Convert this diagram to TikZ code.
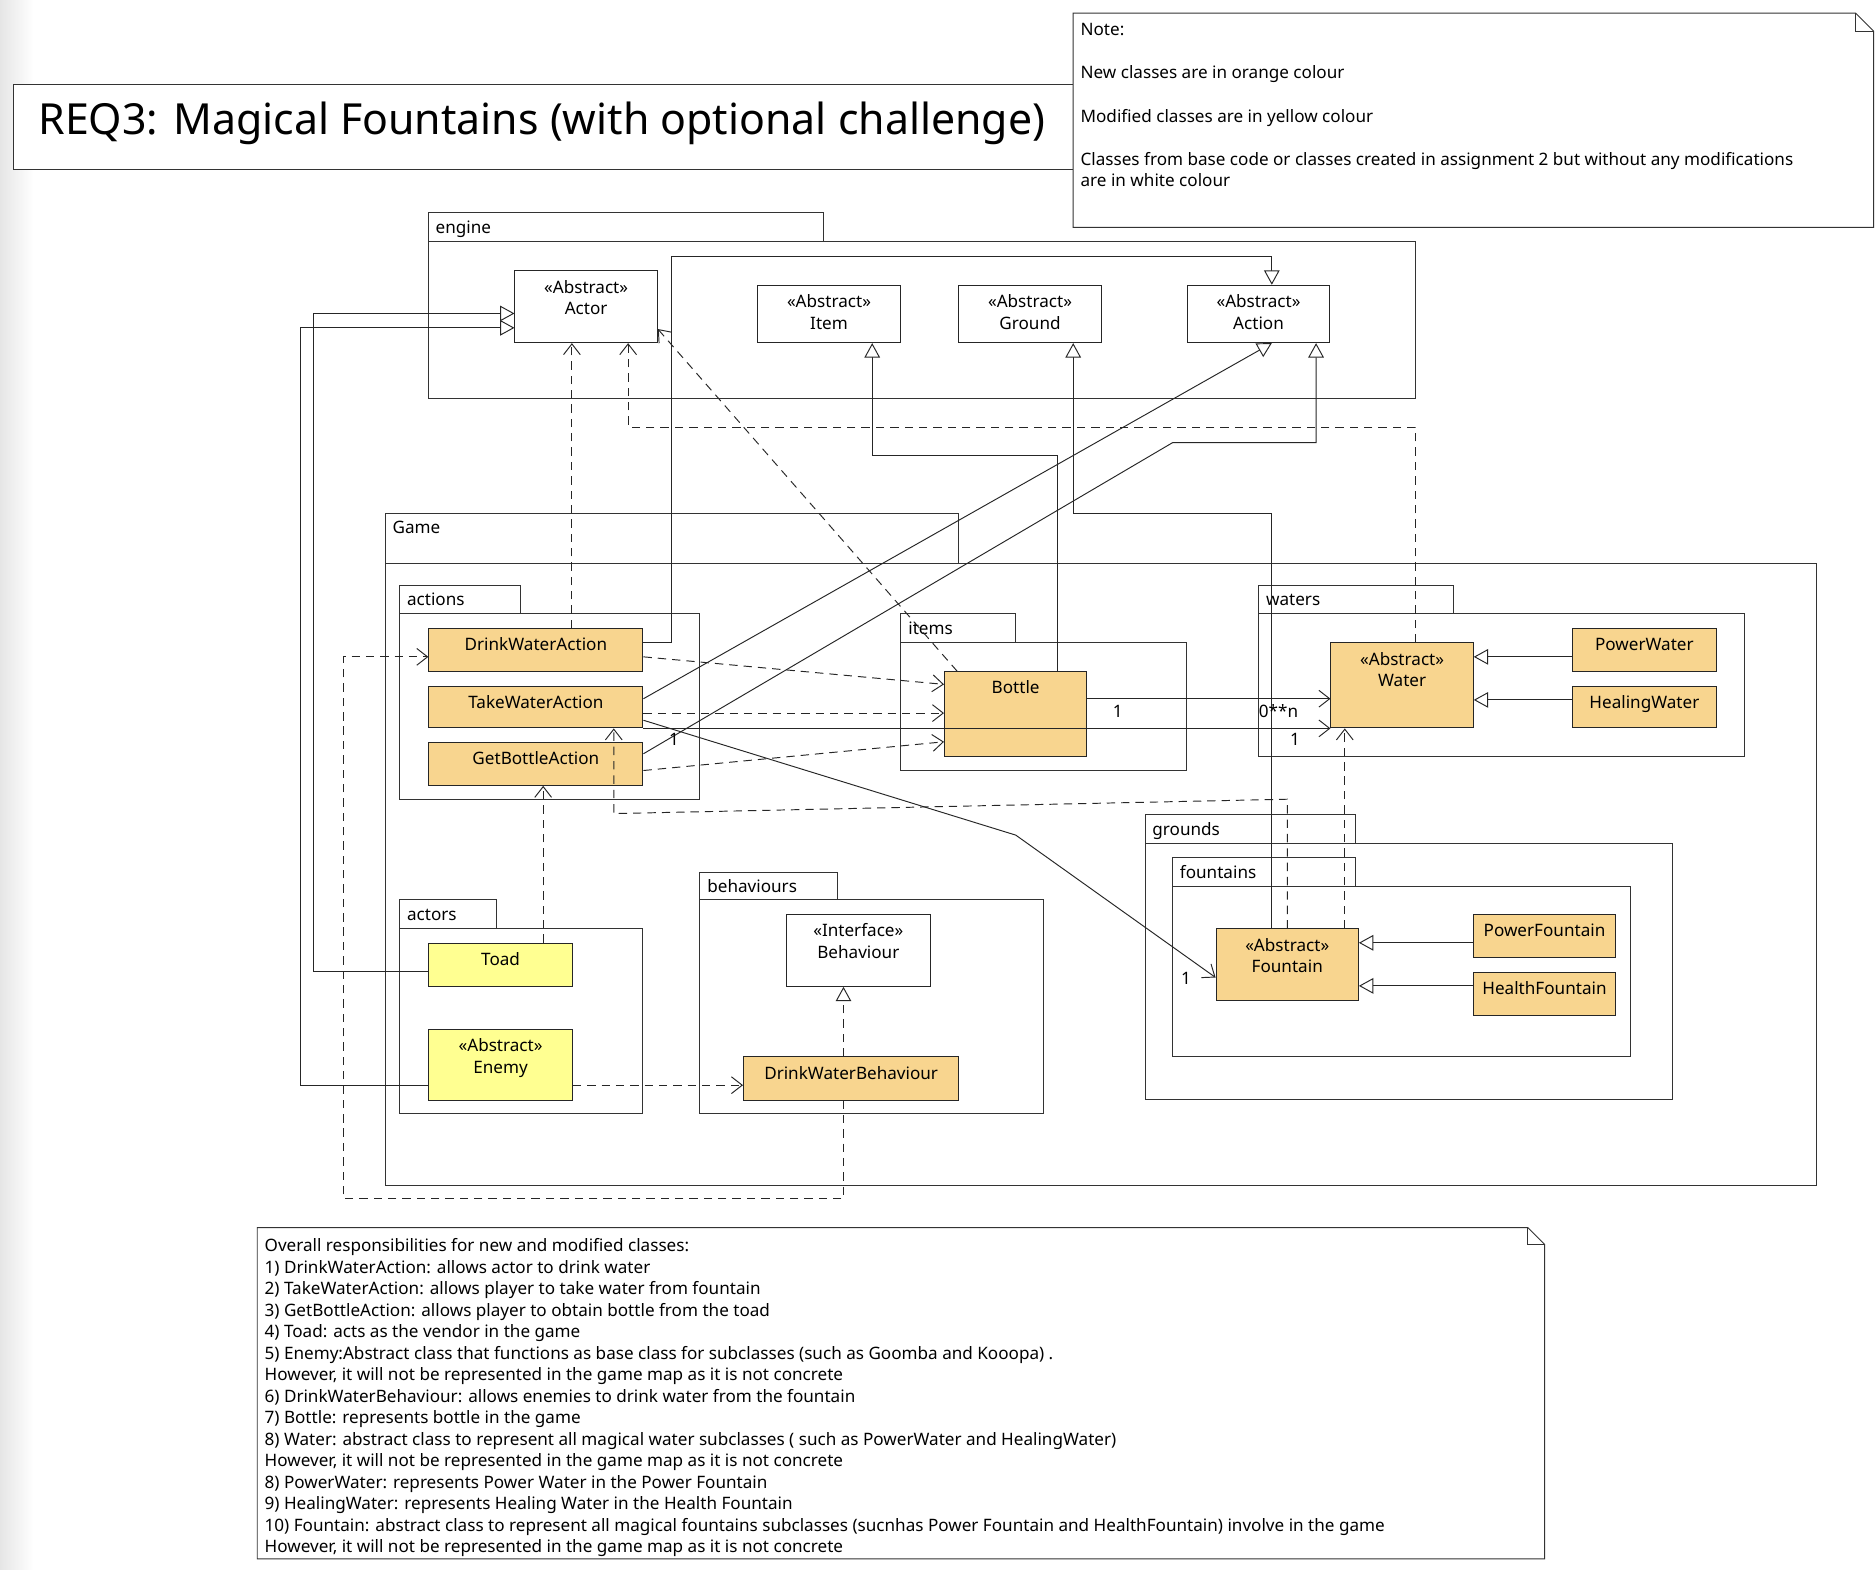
\documentclass[tikz,border=0pt]{standalone}
\usepackage{fontspec}
\setmainfont{Noto Sans}
\usetikzlibrary{arrows.meta,calc}
\definecolor{neworange}{HTML}{F8D58F}
\definecolor{modyellow}{HTML}{FFFF91}
\tikzset{
 pkgline/.style={draw=black!80, line width=0.8pt, fill=white},
 cls/.style={draw=black!85, line width=0.8pt, inner sep=0pt},
 neworg/.style={cls, fill=neworange},
 modyel/.style={cls, fill=modyellow},
 plain/.style={cls, fill=white},
 txt/.style={inner sep=0pt, font=\fontsize{14.3}{17}\selectfont},
 ntxt/.style={inner sep=0pt, font=\fontsize{14.3}{17}\selectfont, anchor=base west},
 conn/.style={line width=0.8pt, draw=black!85},
 gen/.style={conn, -{Triangle[length=12pt,width=13pt,fill=white]}},
 real/.style={gen, dash pattern=on 7pt off 5pt},
 dep/.style={conn, dash pattern=on 7pt off 5pt, -{Straight Barb[length=9pt,width=14pt]}},
 assoc/.style={conn, -{Straight Barb[length=9pt,width=14pt]}},
}
\newcommand\pkgbox[8]{%
 \draw[pkgline] (#1,#2) rectangle (#3,#4);
 \draw[pkgline] (#1,#4) rectangle (#5,#6);
 \node[txt, anchor=base west] (#8) at ({#1+6},{#2+17}) {#7};}
\newcommand\clsA[7]{%
 \node[#2, anchor=north west, minimum width={#5-#3}, minimum height={#6-#4}] (#1) at (#3,#4) {};
 \node[txt, anchor=base] (#1-t) at ($(#1.north)+(0,19)$) {#7};}
\newcommand\clsB[8]{%
 \node[#2, anchor=north west, minimum width={#5-#3}, minimum height={#6-#4}] (#1) at (#3,#4) {};
 \node[txt, anchor=base] (#1-s) at ($(#1.north)+(0,19)$) {#7};
 \node[txt, anchor=base] (#1-t) at ($(#1.north)+(0,37)$) {#8};}
\begin{document}
\begin{tikzpicture}[x=1pt,y=-1pt]
\useasboundingbox (0,0) rectangle (1568,1312.2);
\shade[left color=black!10, right color=white] (0,0) rectangle (28,1312.2);
% title and note
\draw[pkgline] (11,71) rectangle (897,142);
\node[inner sep=0pt, font=\fontsize{35.8}{42}\selectfont, anchor=base west] (title) at (32,112) {REQ3: Magical Fountains (with optional challenge)};
\draw[pkgline] (897,11) -- (1551,11) -- (1566,26) -- (1566,190) -- (897,190) -- cycle;
\draw[line width=0.8pt, draw=black!80] (1551,11) -- (1551,26) -- (1566,26);
\node[ntxt] (n1) at (903,30) {Note:};
\node[ntxt] (n2) at (903,66) {New classes are in orange colour};
\node[ntxt] (n3) at (903,102) {Modified classes are in yellow colour};
\node[ntxt] (n4) at (903,138) {Classes from base code or classes created in assignment 2 but without any modifications};
\node[ntxt] (n5) at (903,156) {are in white colour};
% packages
\pkgbox{358}{178}{688}{202}{1183}{333}{engine}{pengine}
\pkgbox{322}{429}{801}{471}{1518}{991}{Game}{pgame}
\pkgbox{334}{489}{435}{513}{585}{668}{actions}{pactions}
\pkgbox{753}{513}{849}{537}{992}{644}{items}{pitems}
\pkgbox{1052}{489}{1215}{513}{1458}{632}{waters}{pwaters}
\pkgbox{957}{681}{1133}{705}{1398}{919}{grounds}{pgrounds}
\pkgbox{980}{717}{1133}{741}{1363}{883}{fountains}{pfountains}
\pkgbox{334}{752}{415}{776}{537}{931}{actors}{pactors}
\pkgbox{585}{729}{700}{752}{872}{931}{behaviours}{pbehaviours}
% classes
\clsB{actor}{plain}{430}{226}{549}{286}{«Abstract»}{Actor}
\clsB{item}{plain}{633}{238}{752}{286}{«Abstract»}{Item}
\clsB{ground}{plain}{801}{238}{920}{286}{«Abstract»}{Ground}
\clsB{action}{plain}{992}{238}{1111}{286}{«Abstract»}{Action}
\clsA{dwa}{neworg}{358}{525}{537}{561}{DrinkWaterAction}
\clsA{twa}{neworg}{358}{573}{537}{608}{TakeWaterAction}
\clsA{gba}{neworg}{358}{620}{537}{656}{GetBottleAction}
\clsA{bottle}{neworg}{789}{561}{908}{632}{Bottle}
\clsB{water}{neworg}{1112}{537}{1231}{608}{«Abstract»}{Water}
\clsA{pwater}{neworg}{1314}{525}{1434}{561}{PowerWater}
\clsA{hwater}{neworg}{1314}{573}{1434}{608}{HealingWater}
\clsB{fountain}{neworg}{1016}{776}{1135}{836}{«Abstract»}{Fountain}
\clsA{pfount}{neworg}{1231}{764}{1350}{800}{PowerFountain}
\clsA{hfount}{neworg}{1231}{812}{1350}{848}{HealthFountain}
\clsA{toad}{modyel}{358}{788}{478}{824}{Toad}
\clsB{enemy}{modyel}{358}{860}{478}{919}{«Abstract»}{Enemy}
\clsB{behav}{plain}{657}{764}{777}{824}{«Interface»}{Behaviour}
\clsA{dwb}{neworg}{621}{883}{801}{919}{DrinkWaterBehaviour}
% generalizations
\draw[gen] (toad.west |- 0,812) -- (262,812) -- (262,262) -- (actor.west |- 0,262);
\draw[gen] (enemy.west |- 0,907) -- (251,907) -- (251,274) -- (actor.west |- 0,274);
\draw[gen] (dwa.east |- 0,537) -- (561,537) -- (561,214) -- (1063,214) -- (action.north -| 1063,0);
\draw[gen] (twa.east |- 0,584) -- (action.south -| 1063,0);
\draw[gen] (gba.east |- 0,630) -- (980,370) -- (1100,370) -- (action.south -| 1100,0);
\draw[gen] (bottle.north -| 884,0) -- (884,381) -- (729,381) -- (item.south -| 729,0);
\draw[gen] (fountain.north -| 1063,0) -- (1063,429) -- (897,429) -- (ground.south -| 897,0);
\draw[gen] (pwater.west |- 0,549) -- (water.east |- 0,549);
\draw[gen] (hwater.west |- 0,585) -- (water.east |- 0,585);
\draw[gen] (pfount.west |- 0,788) -- (fountain.east |- 0,788);
\draw[gen] (hfount.west |- 0,824) -- (fountain.east |- 0,824);
\draw[real] (dwb.north -| 705,0) -- (behav.south -| 705,0);
% dependencies
\draw[dep] (dwa.north -| 478,0) -- (actor.south -| 478,0);
\draw[dep] (water.north -| 1183,0) -- (1183,357) -- (525,357) -- (actor.south -| 525,0);
\draw[dep] (bottle.north -| 800,0) -- (actor.east |- 0,275);
\draw[dep] (dwa.east |- 0,549) -- (bottle.west |- 0,572);
\draw[dep] (twa.east |- 0,596) -- (bottle.west |- 0,596);
\draw[dep] (gba.east |- 0,644) -- (bottle.west |- 0,620);
\draw[dep] (fountain.north -| 1124,0) -- (water.south -| 1124,0);
\draw[dep] (fountain.north -| 1076,0) -- (1076,668) -- (513,680) -- (twa.south -| 513,0);
\draw[dep] (toad.north -| 454,0) -- (gba.south -| 454,0);
\draw[dep] (enemy.east |- 0,907) -- (dwb.west |- 0,907);
\draw[dep] (dwb.south -| 705,0) -- (705,1002) -- (287,1002) -- (287,549) -- (dwa.west |- 0,549);
% associations
\draw[assoc] (twa.south east) -- (water.south west);
\draw[assoc] (bottle.east |- 0,584) -- (water.west |- 0,584);
\draw[assoc] (twa.east |- 0,602) -- (849,698) -- (fountain.west |- 0,817);
\node[ntxt] (m1) at (930,600) {1};
\node[ntxt] (m2) at (1052,600) {0**n};
\node[ntxt] (m3) at (1078,623) {1};
\node[ntxt] (m4) at (987,823) {1};
\node[ntxt] (m5) at (559,623) {1};
% bottom note
\draw[pkgline] (215,1026) -- (1277,1026) -- (1291,1040) -- (1291,1303) -- (215,1303) -- cycle;
\draw[line width=0.8pt, draw=black!80] (1277,1026) -- (1277,1040) -- (1291,1040);
\node[ntxt] (b1) at (221,1046) {Overall responsibilities for new and modified classes:};
\node[ntxt] (b2) at (221,1064) {1) DrinkWaterAction: allows actor to drink water};
\node[ntxt] (b3) at (221,1082) {2) TakeWaterAction: allows player to take water from fountain};
\node[ntxt] (b4) at (221,1100) {3) GetBottleAction: allows player to obtain bottle from the toad};
\node[ntxt] (b5) at (221,1118) {4) Toad: acts as the vendor in the game};
\node[ntxt] (b6) at (221,1136) {5) Enemy:Abstract class that functions as base class for subclasses (such as Goomba and Kooopa) .};
\node[ntxt] (b7) at (221,1154) {However, it will not be represented in the game map as it is not concrete};
\node[ntxt] (b8) at (221,1172) {6) DrinkWaterBehaviour: allows enemies to drink water from the fountain};
\node[ntxt] (b9) at (221,1190) {7) Bottle: represents bottle in the game};
\node[ntxt] (b10) at (221,1208) {8) Water: abstract class to represent all magical water subclasses ( such as PowerWater and HealingWater)};
\node[ntxt] (b11) at (221,1226) {However, it will not be represented in the game map as it is not concrete};
\node[ntxt] (b12) at (221,1244) {8) PowerWater: represents Power Water in the Power Fountain};
\node[ntxt] (b13) at (221,1262) {9) HealingWater: represents Healing Water in the Health Fountain};
\node[ntxt] (b14) at (221,1280) {10) Fountain: abstract class to represent all magical fountains subclasses (sucnhas Power Fountain and HealthFountain) involve in the game};
\node[ntxt] (b15) at (221,1298) {However, it will not be represented in the game map as it is not concrete};
\end{tikzpicture}
\end{document}
